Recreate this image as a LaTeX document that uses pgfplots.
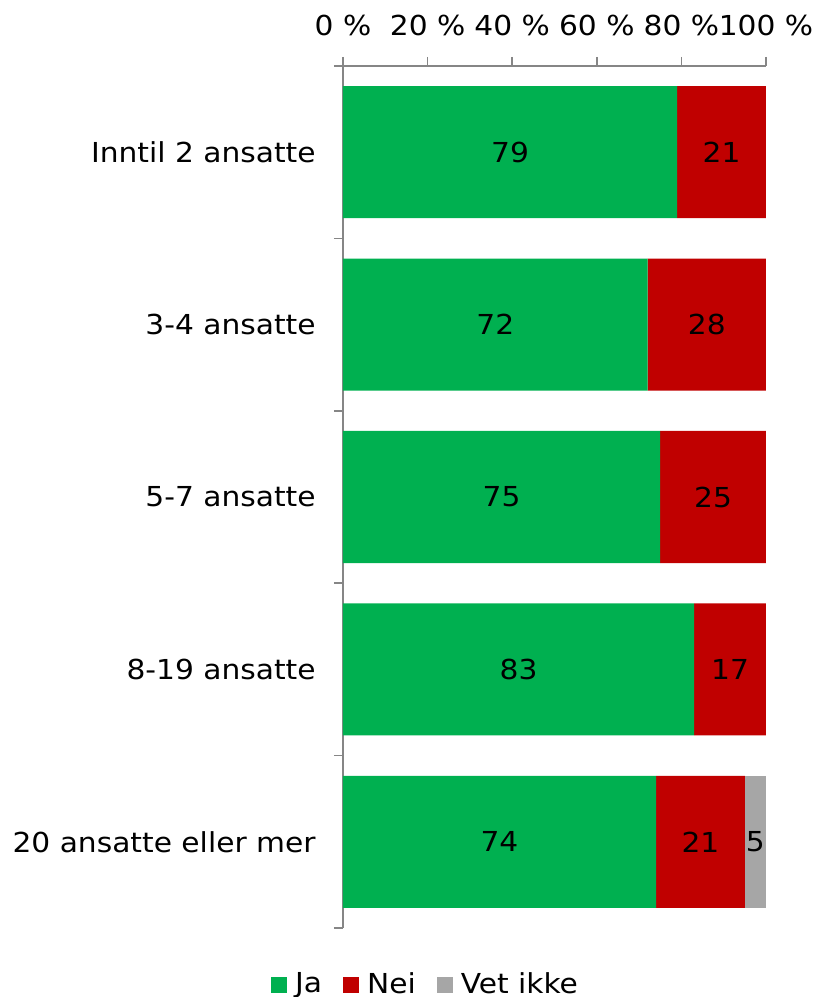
\documentclass[border=0pt]{standalone}
\usepackage{pgfplots}
\pgfplotsset{compat=1.18}
\usepackage{fontspec}
\setmainfont{DejaVu Sans}[FakeStretch=1.08]
\definecolor{ja}{HTML}{00B050}
\definecolor{nei}{HTML}{C00000}
\definecolor{vet}{HTML}{A6A6A6}
\definecolor{axisgray}{HTML}{868686}
\newcommand\chartfont{\fontsize{27.5}{33}\selectfont}
\pgfplotsset{
  sq legend/.style={legend image code/.code={\fill[##1] (0pt,-8pt) rectangle (16pt,8pt);}},
}

\begin{document}
\chartfont
\begin{tikzpicture}
\path[use as bounding box] (-343pt,-69pt) rectangle (474pt,928pt);
\begin{axis}[
  at={(0pt,0pt)}, anchor=south west,
  scale only axis, width=423pt, height=862pt,
  xbar stacked, bar width=0.7657,
  xmin=0, xmax=100, ymin=-0.5, ymax=4.5,
  enlargelimits=false,
  axis x line*=top, axis y line*=left,
  axis line style={axisgray, line width=1.5pt, -},
  tick style={axisgray, line width=1.5pt},
  tick align=outside, major tick length=9pt,
  xtick={0,20,...,100},
  xticklabel={\pgfmathprintnumber{\tick}~\%},
  xticklabel style={yshift=12pt},
  ytick={-0.5,0.5,...,4.5},
  y tick label as interval,
  yticklabels={20 ansatte eller mer, 8-19 ansatte, 5-7 ansatte, 3-4 ansatte, Inntil 2 ansatte},
  yticklabel style={xshift=-9pt},
  /pgf/number format/assume math mode=true,
  tick label style={font=\chartfont, text=black},
  visualization depends on={rawx \as \rawx},
  nodes near coords={\ifdim\rawx pt>0pt \pgfmathprintnumber{\rawx}\fi},
  every node near coord/.append style={font=\chartfont, text=black, anchor=center},
  legend style={at={(0.194,-0.066)}, anchor=center, legend columns=3, draw=none, fill=none, font=\chartfont,
    nodes={inner sep=1pt},
    /tikz/every odd column/.style={column sep=7pt},
    /tikz/every even column/.style={column sep=20pt}},
]
\addplot[fill=ja, draw=none, sq legend] coordinates {(74,0) (83,1) (75,2) (72,3) (79,4)};
\addlegendentry{Ja}
\addplot[fill=nei, draw=none, sq legend] coordinates {(21,0) (17,1) (25,2) (28,3) (21,4)};
\addlegendentry{Nei}
\addplot[fill=vet, draw=none, sq legend] coordinates {(5,0) (0,1) (0,2) (0,3) (0,4)};
\addlegendentry{Vet ikke}
\end{axis}
\end{tikzpicture}
\end{document}
